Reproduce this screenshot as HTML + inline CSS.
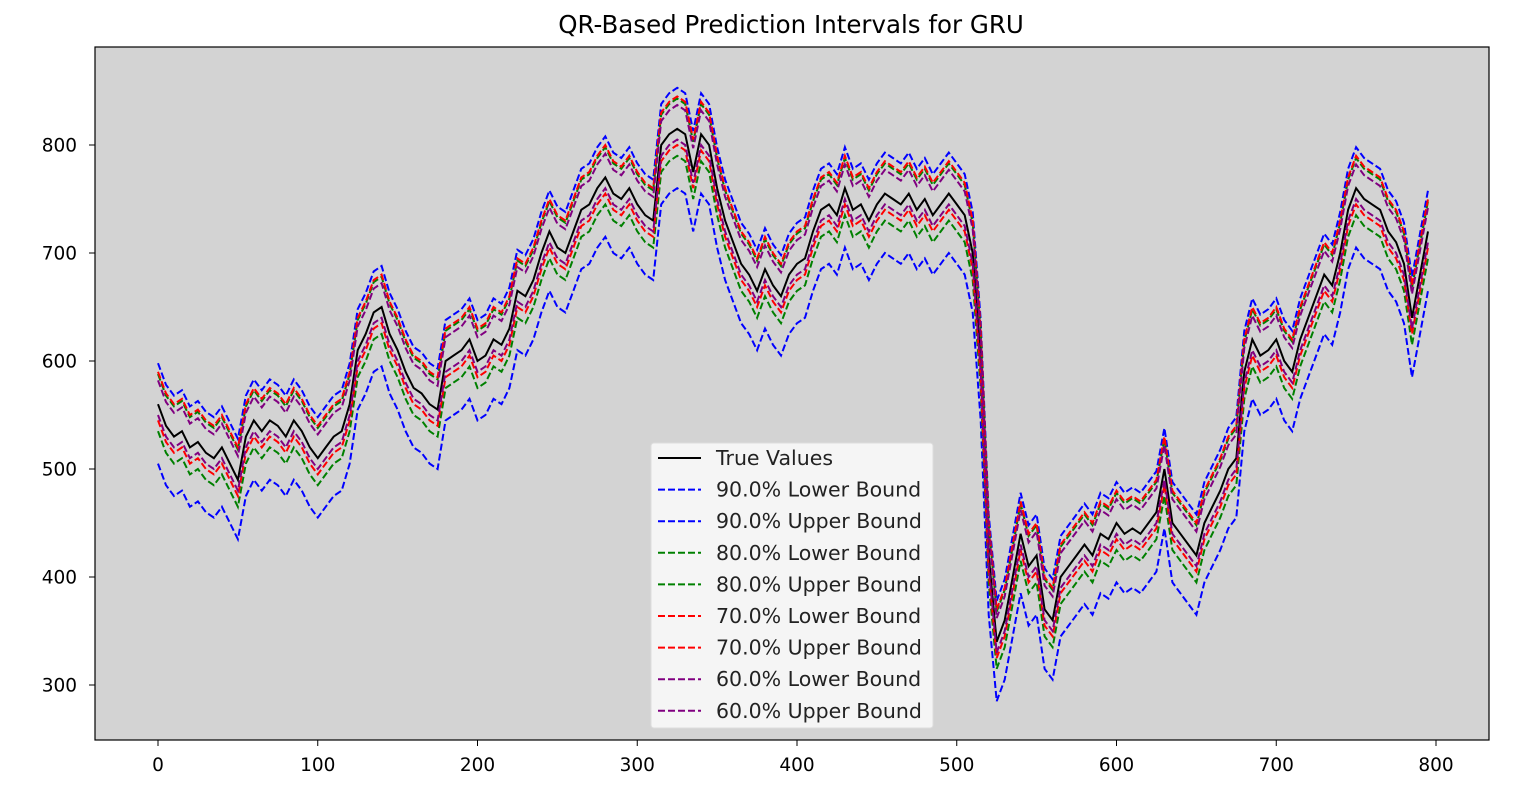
<!DOCTYPE html>
<html><head><meta charset="utf-8"><style>
body{margin:0;background:#fff;font-family:"DejaVu Sans","Liberation Sans",sans-serif;}
svg{display:block}
</style></head><body>
<svg id="chart" width="1537" height="796" xmlns="http://www.w3.org/2000/svg" font-family="DejaVu Sans, Liberation Sans, sans-serif"></svg>
<script>
const xStep = 5;
const trueValues = [560,540,530,535,520,525,515,510,520,505,490,530,545,535,545,540,530,545,535,520,
510,520,530,535,560,610,625,645,650,625,610,590,575,570,560,555,600,605,610,620,
600,605,620,615,630,665,660,675,700,720,705,700,720,740,745,760,770,755,750,760,
745,735,730,800,810,815,810,775,810,800,760,730,710,690,680,665,685,670,660,680,
690,695,720,740,745,735,760,740,745,730,745,755,750,745,755,740,750,735,745,755,
745,735,700,600,420,340,360,400,440,410,420,370,360,400,410,420,430,420,440,435,
450,440,445,440,450,460,500,450,440,430,420,450,465,480,500,510,590,620,605,610,
620,600,590,620,640,660,680,670,700,740,760,750,745,740,720,710,690,640,680,720];
const seriesNames = ["90.0% Lower Bound","90.0% Upper Bound","80.0% Lower Bound","80.0% Upper Bound","70.0% Lower Bound","70.0% Upper Bound","60.0% Lower Bound","60.0% Upper Bound"];
const seriesOffsets = [-55,38,-25,28,-15,30,-10,22];
const seriesColors = ["#0000ff","#0000ff","#008000","#008000","#ff0000","#ff0000","#800080","#800080"];
const xTicks = [0,100,200,300,400,500,600,700,800];
const yTicks = [300,400,500,600,700,800];

const NS="http://www.w3.org/2000/svg";
const svg=document.getElementById('chart');
const L=95,R=1489,T=47,B=740;
function xs(v){return 158+v*(1436-158)/800;}
function ys(v){return 145+(800-v)*(685-145)/500;}
function mk(tag,attrs,parent){const e=document.createElementNS(NS,tag);for(const k in attrs)e.setAttribute(k,attrs[k]);(parent||svg).appendChild(e);return e;}

const bg=mk('rect',{x:L,y:T,width:R-L,height:B-T,fill:'#d3d3d3'});



const title=mk('text',{x:791,y:33,'text-anchor':'middle','font-size':'24.5',fill:'#000'});
title.textContent='QR-Based Prediction Intervals for GRU';



xTicks.forEach(t=>{
  const g=mk('g',{});
  
  
  mk('line',{x1:xs(t),x2:xs(t),y1:B,y2:B+6,stroke:'#000'},g);
  const tx=mk('text',{x:xs(t),y:771,'text-anchor':'middle','font-size':'18.5'},g);tx.textContent=t;
});
yTicks.forEach(t=>{
  const g=mk('g',{});
  
  
  mk('line',{x1:L-6,x2:L,y1:ys(t),y2:ys(t),stroke:'#000'},g);
  const tx=mk('text',{x:L-18,y:ys(t)+6.5,'text-anchor':'end','font-size':'18.5'},g);tx.textContent=t;
});

function pts(off){return trueValues.map((v,i)=>xs(i*xStep).toFixed(1)+','+ys(v+off).toFixed(1)).join(' ');}
const clip=mk('clipPath',{id:'cp'});mk('rect',{x:L,y:T,width:R-L,height:B-T},clip);
const tl=mk('polyline',{points:pts(0),fill:'none',stroke:'#000','stroke-width':2,'clip-path':'url(#cp)'});


seriesNames.forEach((n,i)=>{
  const p=mk('polyline',{points:pts(seriesOffsets[i]),fill:'none',stroke:seriesColors[i],'stroke-width':2,'stroke-dasharray':'7,3','clip-path':'url(#cp)'});
  
  
});
const frame=mk('rect',{x:L,y:T,width:R-L,height:B-T,fill:'none',stroke:'#000','stroke-width':1.2});



const lg=mk('g',{});


mk('rect',{x:651,y:443,width:282,height:285,rx:3,fill:'#f5f5f5',stroke:'#ddd'},lg);
const labels=["True Values"].concat(seriesNames);
const colors=["#000"].concat(seriesColors);
labels.forEach((n,i)=>{
  const y=458+i*31.6;
  const e=mk('g',{},lg);
  
  
  mk('line',{x1:658,x2:701,y1:y,y2:y,stroke:colors[i],'stroke-width':2,'stroke-dasharray':i?'7,3':'none'},e);
  const t=mk('text',{x:716,y:y+7,'font-size':'20.5',fill:'#222'},e);t.textContent=n;
});
</script>
</body></html>
